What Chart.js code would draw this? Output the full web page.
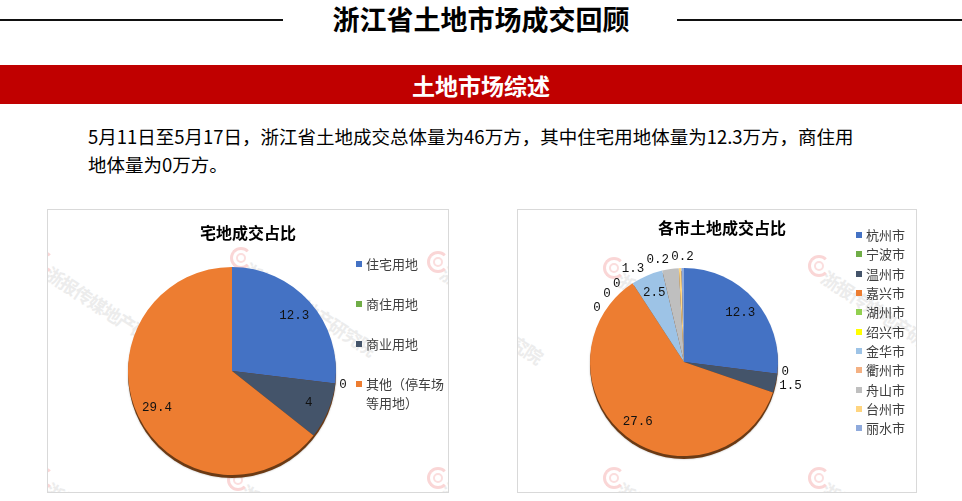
<!DOCTYPE html>
<html lang="zh-CN">
<head>
<meta charset="UTF-8">
<title>浙江省土地市场成交回顾</title>
<script src="https://cdn.jsdelivr.net/npm/chart.js"></script>
<style>
  body { margin: 0; width: 962px; height: 501px; position: relative; overflow: hidden; background: #fff;
         font-family: "Noto Sans CJK SC", sans-serif; }
  .hline { position: absolute; top: 19px; height: 1.5px; background: #111; }
  #title { position: absolute; top: 1px; left: 0; width: 962px; text-align: center; font-size: 27px;
           font-weight: bold; line-height: 36px; color: #000; }
  #banner { position: absolute; left: 0; top: 65px; width: 962px; height: 39px; background: #c00000; color: #fff;
            text-align: center; font-size: 23px; font-weight: bold; line-height: 40px; }
  #intro { position: absolute; left: 88px; top: 122px; width: 776px; font-size: 18.5px; line-height: 28px; color: #000; }
  .box { position: absolute; top: 209px; height: 282px; border: 1px solid #d9d9d9; overflow: hidden; }
  .box canvas { position: absolute; left: 0; top: 0; }
  .ctitle { position: absolute; left: 0; width: 100%; font-size: 16px; font-weight: bold; color: #000; line-height: 20px; }
  .legend { position: absolute; font-size: 13px; color: #404040; }
  .legend div { position: relative; padding-left: 10px; }
  .legend span.sw { position: absolute; left: 0; width: 6px; height: 6px; }
  .ring { position: absolute; width: 16px; height: 16px; border: 3px solid #fad6d6; border-radius: 50%; border-right-color: transparent; }
  .ring::after { content: ''; position: absolute; left: 3px; top: 3px; width: 6px; height: 6px; border: 2px solid #fbdede; border-radius: 50%; }
  .wm { position: absolute; font-size: 18px; font-weight: bold; color: #ececec; white-space: nowrap;
        transform-origin: 0 0; transform: rotate(33deg); letter-spacing: -1px; }
</style>
</head>
<body>
<div class="hline" style="left:0;width:283px"></div>
<div class="hline" style="left:677px;width:285px"></div>
<div id="title">浙江省土地市场成交回顾</div>
<div id="banner">土地市场综述</div>
<div id="intro">5月11日至5月17日，浙江省土地成交总体量为46万方，其中住宅用地体量为12.3万方，商住用地体量为0万方。</div>

<div class="box" id="box1" style="left:47px;width:400px">
  <canvas id="landChart" width="400" height="282"></canvas>
  <div class="ctitle" style="top:12px;text-align:center;padding-right:4px">宅地成交占比</div>
  <div class="legend" id="legend1" style="left:308px;top:44px;width:88px"></div>
</div>

<div class="box" id="box2" style="left:517px;width:398px">
  <canvas id="cityChart" width="398" height="282"></canvas>
  <div class="ctitle" style="top:7px;text-align:center;padding-left:5px">各市土地成交占比</div>
  <div class="legend" id="legend2" style="left:338px;top:15px;width:60px"></div>
</div>

<script>
// 宅地成交占比 (万方)
const landTypes = ['住宅用地', '商住用地', '商业用地', '其他（停车场等用地）'];
const landVolumes = [12.3, 0, 4, 29.4];
const landColors = ['#4472c4', '#70ad47', '#44546a', '#ed7d31'];

// 各市土地成交占比 (万方)
const cities = ['杭州市', '宁波市', '温州市', '嘉兴市', '湖州市', '绍兴市', '金华市', '衢州市', '舟山市', '台州市', '丽水市'];
const cityVolumes = [12.3, 0, 1.5, 27.6, 0, 0, 2.5, 0, 1.3, 0.2, 0.2];
const cityColors = ['#4472c4', '#70ad47', '#44546a', '#ed7d31', '#92d050', '#ffff00',
                    '#9dc3e6', '#f4b183', '#bfbfbf', '#ffd580', '#8faadc'];

// watermark tiles (decoration behind the pies)
function addWatermarks(boxId, spots) {
  const box = document.getElementById(boxId);
  spots.forEach(([x, y]) => {
    const ring = document.createElement('div');
    ring.className = 'ring';
    ring.style.left = (x - 11) + 'px';
    ring.style.top = (y - 11) + 'px';
    box.insertBefore(ring, box.firstChild);
    const t = document.createElement('div');
    t.className = 'wm';
    t.textContent = '浙报传媒地产研究院';
    t.style.left = (x + 12) + 'px';
    t.style.top = (y - 2) + 'px';
    box.insertBefore(t, box.firstChild);
  });
}
addWatermarks('box1', [[-5, 52], [193, 48], [390, 52], [-5, 268], [190, 270], [390, 268]]);
addWatermarks('box2', [[-110, 56], [96, 58], [301, 56], [96, 268], [301, 268]]);

function buildLegend(id, names, colors, rowHeight) {
  const el = document.getElementById(id);
  names.forEach((n, i) => {
    const row = document.createElement('div');
    row.style.lineHeight = '19px';
    row.style.marginBottom = (rowHeight - 19) + 'px';
    const sw = document.createElement('span');
    sw.className = 'sw';
    sw.style.background = colors[i];
    sw.style.top = '7px';
    row.appendChild(sw);
    row.appendChild(document.createTextNode(n));
    el.appendChild(row);
  });
}
buildLegend('legend1', landTypes, landColors, 40);
buildLegend('legend2', cities, cityColors, 19.35);

// brown rim under the pie, like the excel 3d shadow
const pieShadow = {
  id: 'pieShadow',
  beforeDatasetsDraw(chart) {
    const arc = chart.getDatasetMeta(0).data[0];
    const ctx = chart.ctx;
    ctx.save();
    ctx.fillStyle = '#6b3a14';
    ctx.shadowColor = 'rgba(0,0,0,0.3)';
    ctx.shadowBlur = 2;
    ctx.beginPath();
    ctx.arc(arc.x, arc.y + 3, arc.outerRadius, 0, Math.PI * 2);
    ctx.fill();
    ctx.restore();
  }
};

// value labels: big slices inside, small ones outside, nudged round the rim when they collide
const pieLabels = {
  id: 'pieLabels',
  afterDatasetsDraw(chart) {
    const ctx = chart.ctx;
    const meta = chart.getDatasetMeta(0);
    const values = chart.data.datasets[0].data;
    const total = values.reduce((a, b) => a + b, 0);
    ctx.save();
    ctx.font = '12.5px "Liberation Mono", monospace';
    ctx.fillStyle = '#111';
    ctx.textAlign = 'center';
    ctx.textBaseline = 'middle';
    const placed = [];
    const boxFor = (text, x, y) => {
      const w = ctx.measureText(text).width;
      return { x1: x - w / 2 - 1, x2: x + w / 2 + 1, y1: y - 7, y2: y + 7 };
    };
    const hits = b => placed.some(p => b.x1 < p.x2 && b.x2 > p.x1 && b.y1 < p.y2 && b.y2 > p.y1);
    const outside = [];
    meta.data.forEach((arc, i) => {
      const text = String(values[i]);
      const mid = (arc.startAngle + arc.endAngle) / 2;
      if (values[i] / total >= 0.05) {
        const r = arc.outerRadius * 0.8;
        const x = arc.x + Math.cos(mid) * r;
        const y = arc.y + Math.sin(mid) * r;
        placed.push(boxFor(text, x, y));
        ctx.fillText(text, x, y);
      } else {
        outside.push(i);
      }
    });
    outside.reverse().forEach(i => {
      const arc = meta.data[i];
      const text = String(values[i]);
      const w = ctx.measureText(text).width;
      let a = (arc.startAngle + arc.endAngle) / 2;
      let x, y, b;
      for (let k = 0; k < 180; k++) {
        const px = arc.x + Math.cos(a) * (arc.outerRadius + 4);
        const py = arc.y + Math.sin(a) * (arc.outerRadius + 4);
        x = px + Math.cos(a) * w / 2;
        y = py + Math.sin(a) * 7;
        b = boxFor(text, x, y);
        if (!hits(b)) break;
        a -= Math.PI / 360;
      }
      placed.push(b);
      ctx.fillText(text, x, y);
    });
    ctx.restore();
  }
};

function makePie(id, labels, values, colors, padding) {
  new Chart(document.getElementById(id), {
    type: 'pie',
    data: {
      labels: labels,
      datasets: [{ data: values, backgroundColor: colors, borderWidth: 0 }]
    },
    options: {
      responsive: false,
      animation: false,
      layout: { padding: padding },
      plugins: { legend: { display: false }, tooltip: { enabled: false } }
    },
    plugins: [pieShadow, pieLabels]
  });
}

makePie('landChart', landTypes, landVolumes, landColors, { left: 80, top: 57, right: 112, bottom: 17 });
makePie('cityChart', cities, cityVolumes, cityColors, { left: 72, top: 58, right: 138, bottom: 36 });
</script>
</body>
</html>
